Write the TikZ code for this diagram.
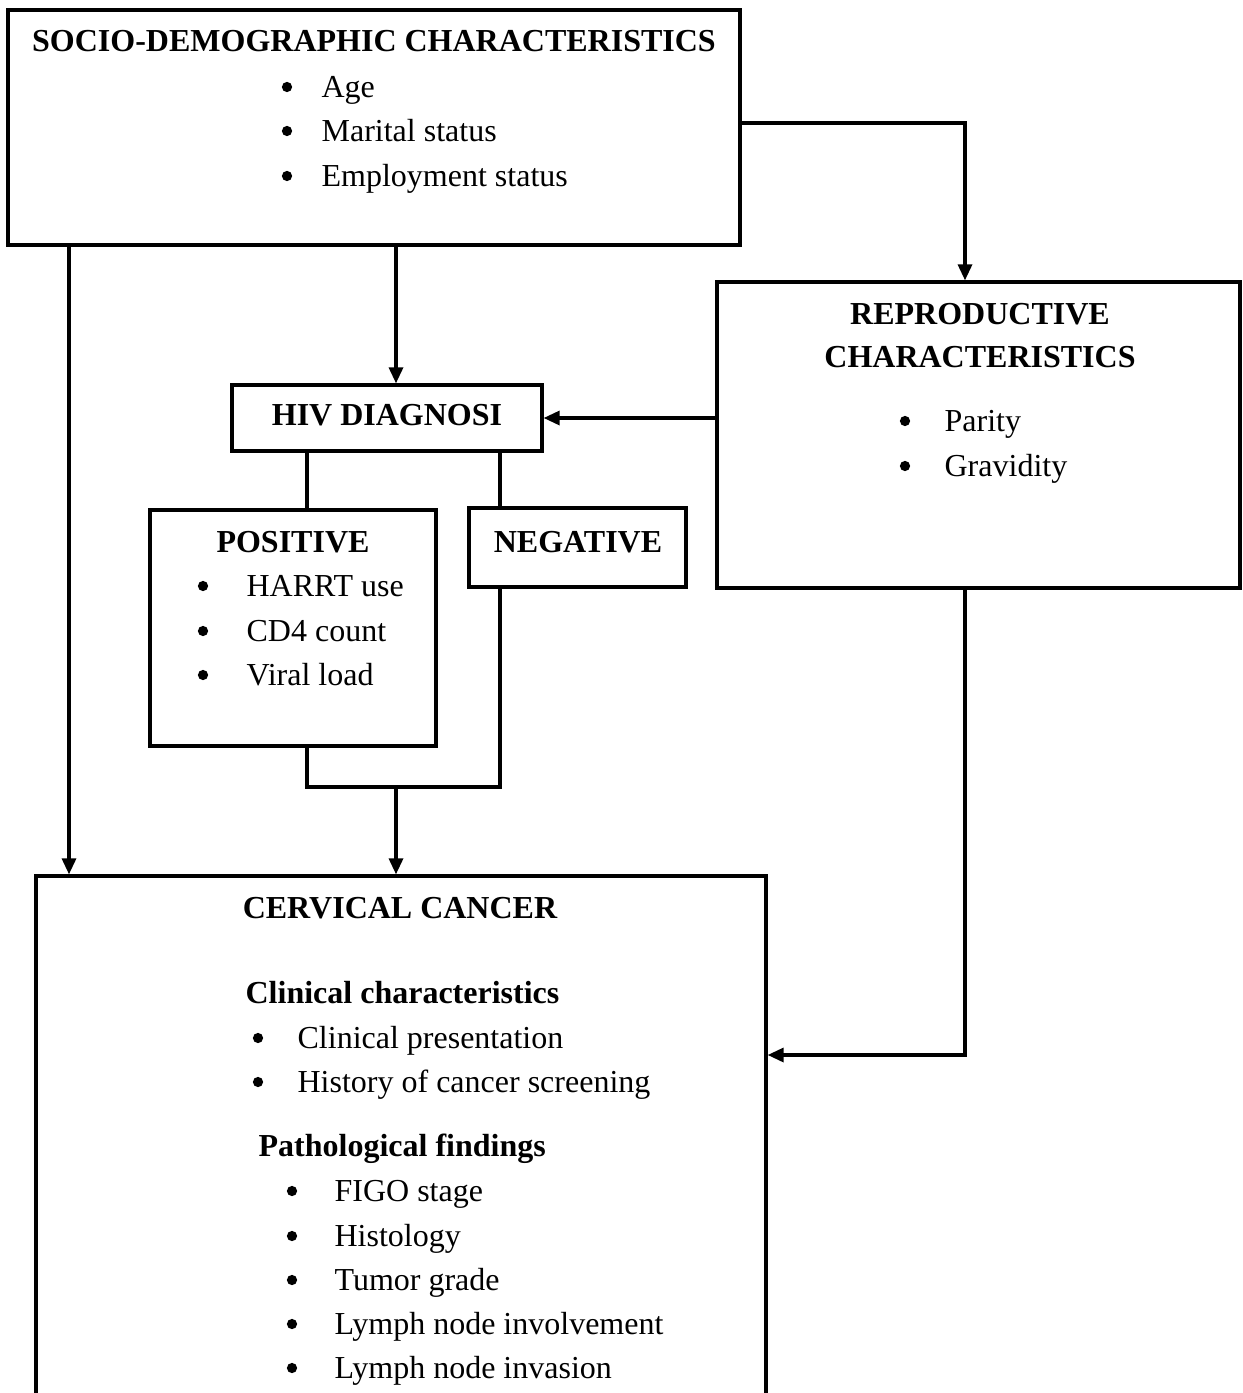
\documentclass[tikz,border=0pt]{standalone}
\usepackage{fontspec}
\setmainfont{Liberation Serif}
\usetikzlibrary{arrows.meta,fit}
\begin{document}
\begin{tikzpicture}[x=0.4pt,y=-0.4pt, line width=1.3pt,
  font=\fontsize{12.8pt}{15pt}\selectfont,
  box/.style={draw, inner sep=0pt},
  arr/.style={-{Triangle[length=6.4pt,width=5.6pt]}},
  hd/.style={font=\fontsize{12.8pt}{15pt}\selectfont\bfseries, anchor=base, inner sep=0pt},
  hdl/.style={font=\fontsize{12.8pt}{15pt}\selectfont\bfseries, anchor=base west, inner sep=0pt},
  tx/.style={anchor=base west, inner sep=0pt},
  bul/.style={circle, fill, draw=none, inner sep=0pt, minimum size=4.1pt}]
\useasboundingbox (0,0) rectangle (1243,1393);
\clip (0,0) rectangle (1243,1393);

% boxes
\node[box, fit={(8,10)(740,245)}] (socio) {};
\node[box, fit={(717,282)(1240,588)}] (repro) {};
\node[box, fit={(232,385)(542,451)}] (hiv) {};
\node[box, fit={(150,510)(436,746)}] (pos) {};
\node[box, fit={(469,508)(686,587)}] (neg) {};
\node[box, fit={(36,876)(766,1460)}] (cc) {};

% socio-demographic
\node[hd] (t1) at (374,51) {SOCIO-DEMOGRAPHIC CHARACTERISTICS};
\node[bul] (b11) at (287,87) {};  \node[tx] (i11) at (320,97) {Age};
\node[bul] (b12) at (287,131) {}; \node[tx] (i12) at (320,141) {Marital status};
\node[bul] (b13) at (287,176) {}; \node[tx] (i13) at (320,186) {Employment status};

% reproductive
\node[hd] (t2a) at (980,324) {REPRODUCTIVE};
\node[hd] (t2b) at (980,367) {CHARACTERISTICS};
\node[bul] (b21) at (905,421) {}; \node[tx] (i21) at (943,431) {Parity};
\node[bul] (b22) at (905,466) {}; \node[tx] (i22) at (943,476) {Gravidity};

% HIV
\node[hd] (t3) at (387,425) {HIV DIAGNOSI};
\node[hd] (t4) at (293,552) {POSITIVE};
\node[bul] (b41) at (203,586) {}; \node[tx] (i41) at (245,596) {HARRT use};
\node[bul] (b42) at (203,631) {}; \node[tx] (i42) at (245,641) {CD4 count};
\node[bul] (b43) at (203,675) {}; \node[tx] (i43) at (245,685) {Viral load};
\node[hd] (t5) at (578,552) {NEGATIVE};

% cervical cancer
\node[hd] (t6) at (400,918) {CERVICAL CANCER};
\node[hdl] (t6a) at (244,1003) {Clinical characteristics};
\node[bul] (b61) at (258,1038) {}; \node[tx] (i61) at (296,1048) {Clinical presentation};
\node[bul] (b62) at (258,1082) {}; \node[tx] (i62) at (296,1092) {History of cancer screening};
\node[hdl] (t6b) at (257,1156) {Pathological findings};
\node[bul] (b71) at (292,1191) {}; \node[tx] (i71) at (333,1201) {FIGO stage};
\node[bul] (b72) at (292,1236) {}; \node[tx] (i72) at (333,1246) {Histology};
\node[bul] (b73) at (292,1280) {}; \node[tx] (i73) at (333,1290) {Tumor grade};
\node[bul] (b74) at (292,1324) {}; \node[tx] (i74) at (333,1334) {Lymph node involvement};
\node[bul] (b75) at (292,1368) {}; \node[tx] (i75) at (333,1378) {Lymph node invasion};

% connectors
\coordinate (m) at (396,787);
\draw[arr] (socio.east |- 0,123) -| (965,0 |- repro.north);
\draw[arr] (396,0 |- socio.south) -- (396,0 |- hiv.north);
\draw[arr] (repro.west |- hiv.east) -- (hiv.east);
\draw (307,0 |- hiv.south) -- (307,0 |- pos.north);
\draw (500,0 |- hiv.south) -- (500,0 |- neg.north);
\draw (307,0 |- pos.south) |- (m) -| (500,0 |- neg.south);
\draw[arr] (m) -- (m |- cc.north);
\draw[arr] (69,0 |- socio.south) -- (69,0 |- cc.north);
\draw[arr] (965,0 |- repro.south) |- (cc.east |- 0,1055);
\end{tikzpicture}
\end{document}
